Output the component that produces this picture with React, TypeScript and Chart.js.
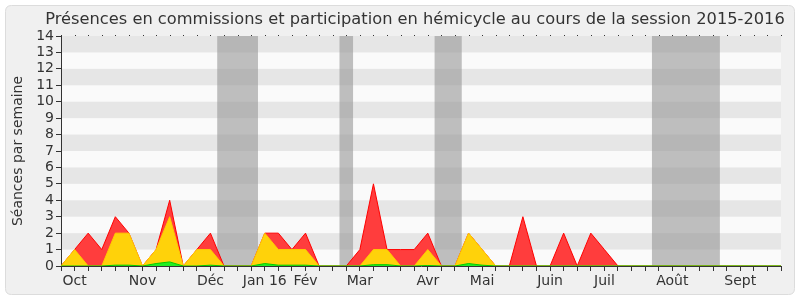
import React, { useEffect, useRef } from "react";
import { Chart, registerables } from "chart.js";

Chart.register(...registerables);

const weekLabels: string[] = [
  "", "Oct", "", "", "", "", "Nov", "", "", "", "", "Déc", "", "", "", "Jan 16", "", "", "Fév", "", "",
  "", "Mar", "", "", "", "", "Avr", "", "", "", "Mai", "", "", "", "", "Juin", "", "", "", "Juil", "",
  "", "", "", "Août", "", "", "", "", "Sept", "", "", "",
];

const redValues: number[] = [
  0, 1, 2, 1, 3, 2, 0, 1, 4, 0, 1, 2, 0, 0, 0, 2, 2, 1, 2, 0, 0,
  0, 1, 5, 1, 1, 1, 2, 0, 0, 2, 1, 0, 0, 3, 0, 0, 2, 0, 2, 1, 0,
  0, 0, 0, 0, 0, 0, 0, 0, 0, 0, 0, 0,
];

const yellowValues: number[] = [
  0, 1, 0, 0, 2, 2, 0, 1, 3, 0, 1, 1, 0, 0, 0, 2, 1, 1, 1, 0, 0,
  0, 0, 1, 1, 0, 0, 1, 0, 0, 2, 1, 0, 0, 0, 0, 0, 0, 0, 0, 0, 0,
  0, 0, 0, 0, 0, 0, 0, 0, 0, 0, 0, 0,
];

const greenValues: number[] = [
  0, 0, 0, 0, 0.05, 0.05, 0, 0.15, 0.25, 0, 0, 0.05, 0, 0, 0, 0.15, 0.05, 0.05, 0.05, 0, 0,
  0, 0, 0.08, 0.08, 0, 0, 0.03, 0, 0, 0.15, 0.05, 0, 0, 0, 0, 0, 0, 0, 0, 0, 0,
  0, 0, 0, 0, 0, 0, 0, 0, 0, 0, 0, 0,
];

// vacation periods, as [first week index, last week index]
const vacations: [number, number][] = [
  [12, 14],
  [21, 21],
  [28, 29],
  [44, 48],
];

const TITLE = "Présences en commissions et participation en hémicycle au cours de la session 2015-2016";
const Y_TITLE = "Séances par semaine";
const FONT = "'DejaVu Sans', Verdana, sans-serif";

const backgroundPlugin = {
  id: "bgPanel",
  beforeDraw(chart: any) {
    const { ctx, chartArea, scales } = chart;
    ctx.save();
    ctx.fillStyle = "#ffffff";
    ctx.fillRect(0, 0, chart.width, chart.height);
    // panel
    const x = 5.5, y = 5.5, w = chart.width - 11, h = chart.height - 11, r = 6;
    ctx.beginPath();
    ctx.moveTo(x + r, y);
    ctx.lineTo(x + w - r, y);
    ctx.quadraticCurveTo(x + w, y, x + w, y + r);
    ctx.lineTo(x + w, y + h - r);
    ctx.quadraticCurveTo(x + w, y + h, x + w - r, y + h);
    ctx.lineTo(x + r, y + h);
    ctx.quadraticCurveTo(x, y + h, x, y + h - r);
    ctx.lineTo(x, y + r);
    ctx.quadraticCurveTo(x, y, x + r, y);
    ctx.closePath();
    ctx.fillStyle = "#f0f0f0";
    ctx.fill();
    ctx.strokeStyle = "#dcdcdc";
    ctx.lineWidth = 1;
    ctx.stroke();
    // title
    ctx.fillStyle = "#333333";
    ctx.font = "16.25px " + FONT;
    ctx.textAlign = "center";
    ctx.textBaseline = "middle";
    ctx.fillText(TITLE, 415, 20);
    // stripes
    const ys = scales.y;
    ctx.fillStyle = "#fafafa";
    ctx.fillRect(chartArea.left, chartArea.top, chartArea.right - chartArea.left, chartArea.bottom - chartArea.top);
    ctx.fillStyle = "#e6e6e6";
    for (let v = 1; v < 14; v += 2) {
      const y1 = ys.getPixelForValue(v + 1);
      const y0 = ys.getPixelForValue(v);
      ctx.fillRect(chartArea.left, y1, chartArea.right - chartArea.left, y0 - y1);
    }
    ctx.restore();
  },
  beforeDatasetsDraw(chart: any) {
    const { ctx, chartArea, scales } = chart;
    const xs = scales.x;
    ctx.save();
    ctx.fillStyle = "rgba(150,150,150,0.6)";
    for (const [a, b] of vacations) {
      const x0 = xs.getPixelForValue(a - 0.5);
      const x1 = xs.getPixelForValue(b + 0.5);
      ctx.fillRect(x0, chartArea.top, x1 - x0, chartArea.bottom - chartArea.top);
    }
    // small dots along the top edge at each week
    ctx.fillStyle = "#333333";
    for (let i = 0; i < weekLabels.length; i++) {
      const px = Math.round(xs.getPixelForValue(i));
      ctx.fillRect(px, chartArea.top - 1, 1, 1);
    }
    ctx.restore();
  },
};

export default function App() {
  const ref = useRef<HTMLCanvasElement | null>(null);
  useEffect(() => {
    if (!ref.current) return;
    Chart.defaults.font.family = FONT;
    Chart.defaults.color = "#333333";
    const chart = new Chart(ref.current, {
      type: "line",
      data: {
        labels: weekLabels,
        datasets: [
          {
            label: "Présences",
            data: redValues,
            borderColor: "#ff0000",
            backgroundColor: "#ff3d3d",
            borderWidth: 1,
            fill: "origin",
            pointRadius: 0,
            tension: 0,
            order: 3,
          },
          {
            label: "Commissions",
            data: yellowValues,
            borderColor: "#ffcc00",
            backgroundColor: "#ffd20a",
            borderWidth: 1,
            fill: "origin",
            pointRadius: 0,
            tension: 0,
            order: 2,
          },
          {
            label: "Interventions",
            data: greenValues,
            borderColor: "#00cc00",
            backgroundColor: "#22ee22",
            borderWidth: 1,
            fill: "origin",
            pointRadius: 0,
            tension: 0,
            order: 1,
          },
        ],
      },
      options: {
        responsive: false,
        animation: false,
        layout: { padding: { left: 0, right: 19, top: 36, bottom: 0 } },
        plugins: {
          legend: { display: false },
          tooltip: { enabled: false },
          title: { display: false },
        },
        scales: {
          x: {
            type: "category",
            offset: false,
            grid: {
              display: true,
              drawOnChartArea: false,
              drawTicks: true,
              tickLength: 5,
              color: "#333333",
            },
            border: { display: true, color: "#333333", width: 1 },
            ticks: {
              autoSkip: false,
              maxRotation: 0,
              minRotation: 0,
              padding: 2,
              font: { size: 14 },
              color: "#333333",
            },
            afterFit: (s: any) => {
              s.height = 34;
            },
          },
          y: {
            min: 0,
            max: 14,
            ticks: {
              stepSize: 1,
              autoSkip: false,
              padding: 2,
              font: { size: 14 },
              color: "#333333",
            },
            grid: {
              display: true,
              drawOnChartArea: false,
              drawTicks: true,
              tickLength: 5,
              color: "#333333",
            },
            border: { display: true, color: "#333333", width: 1 },
            title: {
              display: true,
              text: Y_TITLE,
              font: { size: 14 },
              color: "#333333",
              padding: { top: 10, bottom: 0 },
            },
            afterFit: (s: any) => {
              s.width = 61;
            },
          },
        },
      },
      plugins: [backgroundPlugin],
    });
    return () => chart.destroy();
  }, []);
  return (
    <div style={{ position: "fixed", left: 0, top: 0, width: 800, height: 300 }}>
      <canvas ref={ref} width={800} height={300} />
    </div>
  );
}
